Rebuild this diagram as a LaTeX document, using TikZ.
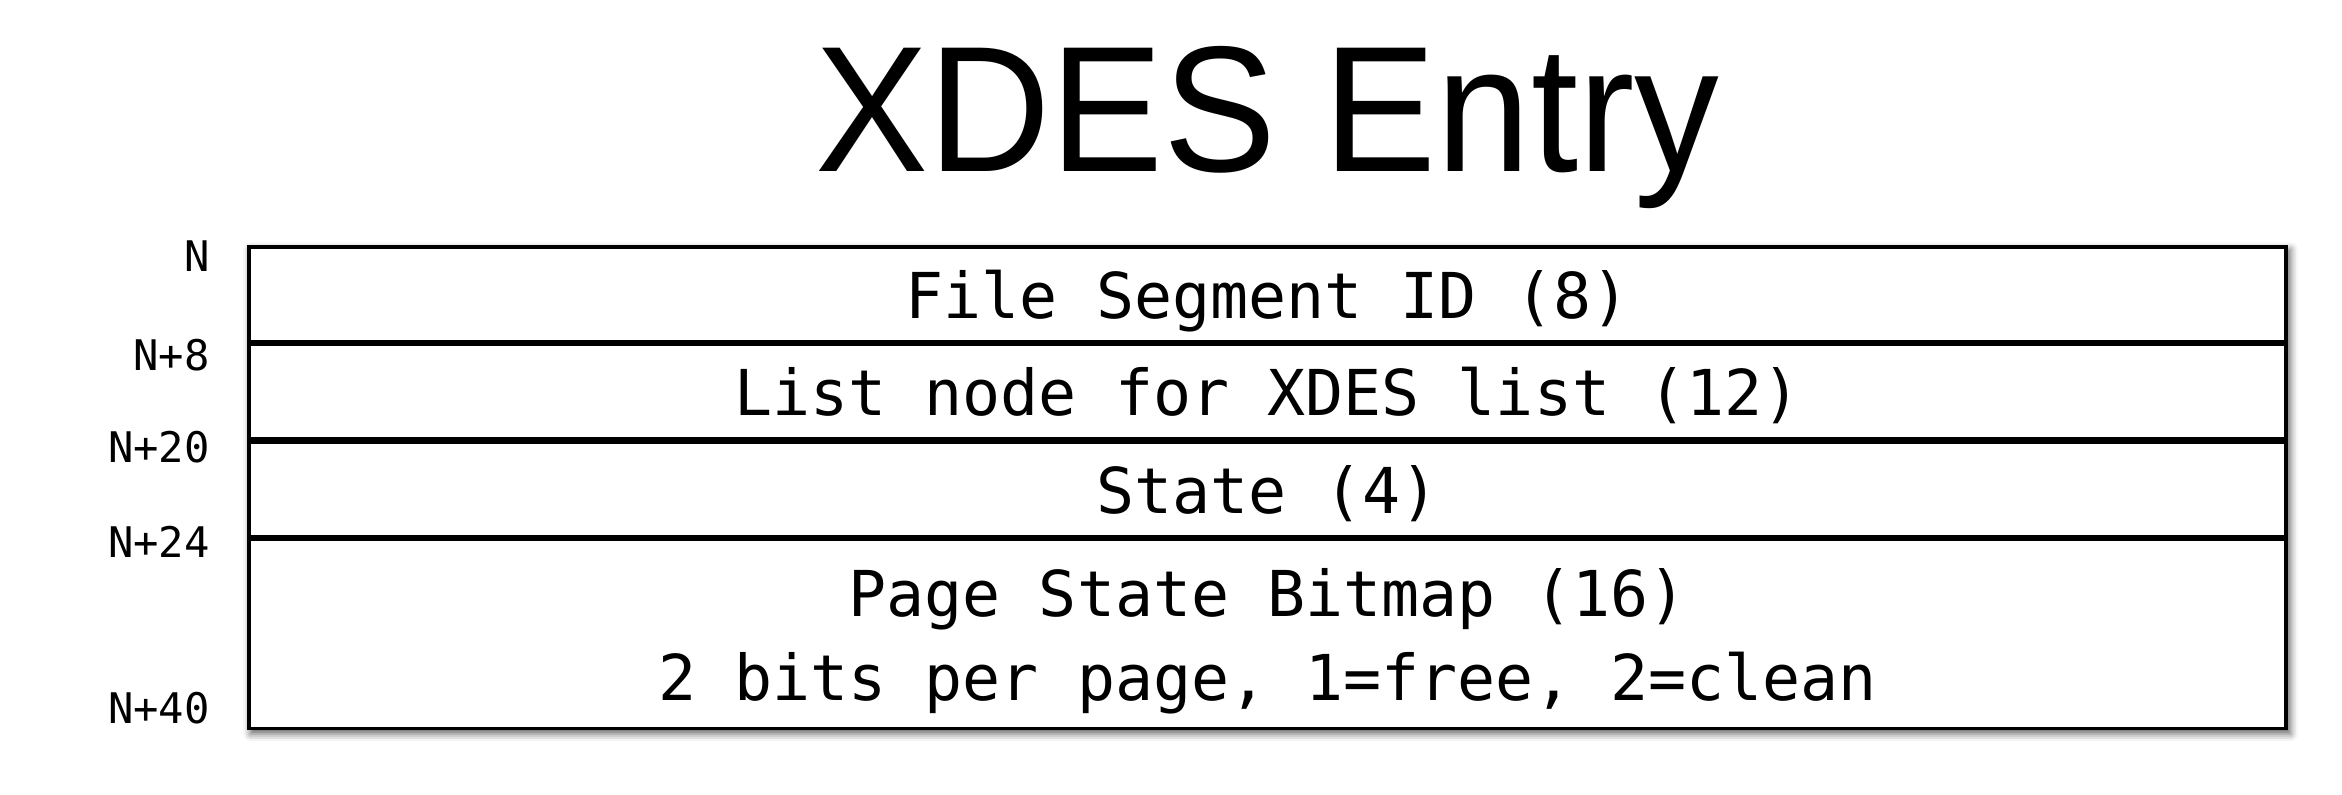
\documentclass[tikz,border=0pt]{standalone}
\usepackage{fontspec}
\setmainfont{Liberation Sans}
\setmonofont{DejaVu Sans Mono}
\newfontfamily\titlefont[FakeStretch=0.945]{Liberation Sans}
\usetikzlibrary{positioning,backgrounds,shadows.blur}

\begin{document}
\begin{tikzpicture}[%
  field/.style={draw, line width=0.9pt, minimum width=20.37cm, minimum height=0.944cm,
    inner sep=0pt, text depth=0pt, align=center, font=\ttfamily\fontsize{18pt}{23.9pt}\selectfont},
  olabel/.style={anchor=east, inner sep=0pt, font=\ttfamily\fontsize{12pt}{14pt}\selectfont}]
\useasboundingbox (0,0) rectangle (23.42,7.94);
\node[font=\titlefont\fontsize{51pt}{57pt}\selectfont, anchor=base] (title) at (12.675,6.22) {XDES Entry};
\node[field] (segid) at (12.675,4.998) {File Segment ID (8)};
\node[field, below=0pt of segid] (listnode) {List node for XDES list (12)};
\node[field, below=0pt of listnode] (state) {State (4)};
\node[field, below=0pt of state, minimum height=1.888cm] (bitmap)
  {Page State Bitmap (16)\\2 bits per page, 1=free, 2=clean};
\begin{scope}[on background layer]
  \fill[white, blur shadow={shadow xshift=0.03cm, shadow yshift=-0.04cm,
    shadow blur radius=0.07cm, shadow opacity=60}]
    (segid.north west) rectangle (bitmap.south east);
\end{scope}
\node[olabel] (offN) at ([xshift=-0.37cm, yshift=-0.11cm]segid.north west) {N};
\node[olabel] (offN8) at ([xshift=-0.37cm, yshift=-0.12cm]listnode.north west) {N+8};
\node[olabel] (offN20) at ([xshift=-0.37cm, yshift=-0.07cm]state.north west) {N+20};
\node[olabel] (offN24) at ([xshift=-0.37cm, yshift=-0.04cm]bitmap.north west) {N+24};
\node[olabel] (offN40) at ([xshift=-0.37cm, yshift=0.22cm]bitmap.south west) {N+40};
\end{tikzpicture}
\end{document}
